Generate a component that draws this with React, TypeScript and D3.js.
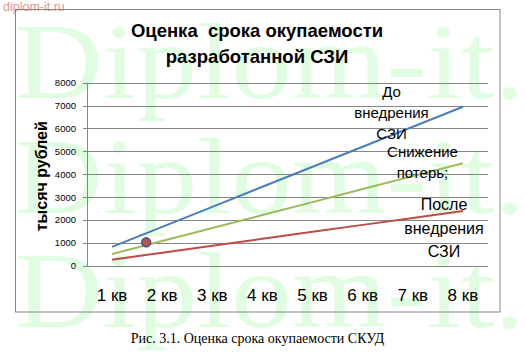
import React from "react";
import { scalePoint, scaleLinear, line } from "d3";

// quarters on the x axis
const quarters = ["1 кв", "2 кв", "3 кв", "4 кв", "5 кв", "6 кв", "7 кв", "8 кв"];
// thousand rubles
const beforeValues = [820, 1695, 2570, 3450, 4325, 5200, 6075, 6950];
const reductionValues = [510, 1080, 1650, 2215, 2780, 3350, 3915, 4480];
const afterValues = [265, 570, 875, 1175, 1480, 1785, 2085, 2390];
const yTicks = [0, 1000, 2000, 3000, 4000, 5000, 6000, 7000, 8000];
// payback point: between 1 кв and 2 кв
const paybackPoint = { from: 0, frac: 0.68, value: 1020 };

const seriesList = [
	{ name: "before", values: beforeValues, color: "#4a7ebb", label: ["До", "внедрения", "СЗИ"] },
	{ name: "reduction", values: reductionValues, color: "#9bbb59", label: ["Снижение", "потерь;"] },
	{ name: "after", values: afterValues, color: "#be4b48", label: ["После", "внедрения", "СЗИ"] }
];

const W = 525;
const H = 361;
const plot = { left: 87, right: 488, top: 82.7, bottom: 265.7 };

export default function App() {
	const xScale = scalePoint<string>()
		.domain(quarters)
		.range([plot.left, plot.right])
		.padding(0.5);
	const yScale = scaleLinear().domain([0, 8000]).range([plot.bottom, plot.top]);

	const makeLine = line<number>()
		.x((d, i) => xScale(quarters[i]) as number)
		.y(d => yScale(d));

	const x0 = xScale(quarters[paybackPoint.from]) as number;
	const x1 = xScale(quarters[paybackPoint.from + 1]) as number;
	const markerX = x0 + (x1 - x0) * paybackPoint.frac;

	//label placement (data labels beside line ends)
	const labelPos = [
		{ x: 391.5, y: 96.5, dy: 21, size: 15 },
		{ x: 422.5, y: 157, dy: 21, size: 15 },
		{ x: 444, y: 210, dy: 23.5, size: 16 }
	];

	const sans = "'Liberation Sans', Arial, sans-serif";

	return (
		<svg
			width={W}
			height={H}
			style={{ position: "absolute", left: 0, top: 0, background: "#fff" }}
		>
			{/* watermark */}
			{[98, 213, 327].map(y => (
				<text
					key={y}
					x={15}
					y={y}
					fontFamily="'Liberation Serif', 'Times New Roman', serif"
					fontSize={108}
					fill="#e1fde1"
					textLength={510}
					lengthAdjust="spacingAndGlyphs"
				>
					Diplom-it.
				</text>
			))}
			<text x={3} y={11} fontFamily={sans} fontSize={12.5} fill="#e59393">
				diplom-it.ru
			</text>

			{/* chart frame */}
			<rect x={15.5} y={9.5} width={484.5} height={302.5} fill="none" stroke="#868686" />

			{/* title */}
			<g fontFamily={sans} fontWeight="bold" fontSize={18.5} textAnchor="middle" fill="#000">
				<text x={257} y={37} xmlSpace="preserve">Оценка  срока окупаемости</text>
				<text x={257} y={63}>разработанной СЗИ</text>
			</g>

			{/* grid */}
			{yTicks.map(t => (
				<g key={t}>
					<line
						x1={plot.left - 4}
						x2={plot.right}
						y1={Math.round(yScale(t)) + 0.5}
						y2={Math.round(yScale(t)) + 0.5}
						stroke="#868686"
					/>
					<text
						x={76}
						y={yScale(t) + 3.5}
						textAnchor="end"
						fontFamily={sans}
						fontSize={9.5}
						fill="#000"
					>
						{t}
					</text>
				</g>
			))}
			<line x1={plot.left + 0.5} x2={plot.left + 0.5} y1={plot.top} y2={plot.bottom + 1} stroke="#868686" />

			{/* y axis title */}
			<text
				transform={`translate(47,${(plot.top + plot.bottom) / 2 + 2}) rotate(-90)`}
				textAnchor="middle"
				fontFamily={sans}
				fontWeight="bold"
				fontSize={16}
				fill="#000"
			>
				тысяч рублей
			</text>

			{/* x labels */}
			{quarters.map(q => (
				<text
					key={q}
					x={xScale(q)}
					y={301}
					textAnchor="middle"
					fontFamily={sans}
					fontSize={17}
					fill="#000"
				>
					{q}
				</text>
			))}

			{/* series */}
			{seriesList.map(s => (
				<path key={s.name} d={makeLine(s.values) || ""} fill="none" stroke={s.color} strokeWidth={2} />
			))}

			{/* data labels */}
			{seriesList.map((s, i) => (
				<text
					key={s.name + "-label"}
					textAnchor="middle"
					fontFamily={sans}
					fontSize={labelPos[i].size}
					fill="#000"
				>
					{s.label.map((l, j) => (
						<tspan key={j} x={labelPos[i].x} y={labelPos[i].y + j * labelPos[i].dy}>
							{l}
						</tspan>
					))}
				</text>
			))}

			{/* payback marker */}
			<circle
				cx={markerX}
				cy={yScale(paybackPoint.value)}
				r={4.5}
				fill="#c0504d"
				stroke="#385d8a"
				strokeWidth={1.5}
			/>

			{/* caption */}
			<text
				x={257.5}
				y={343}
				textAnchor="middle"
				fontFamily="'Liberation Serif', 'Times New Roman', serif"
				fontSize={14}
				fill="#000"
			>
				Рис. 3.1. Оценка срока окупаемости СКУД
			</text>
		</svg>
	);
}
